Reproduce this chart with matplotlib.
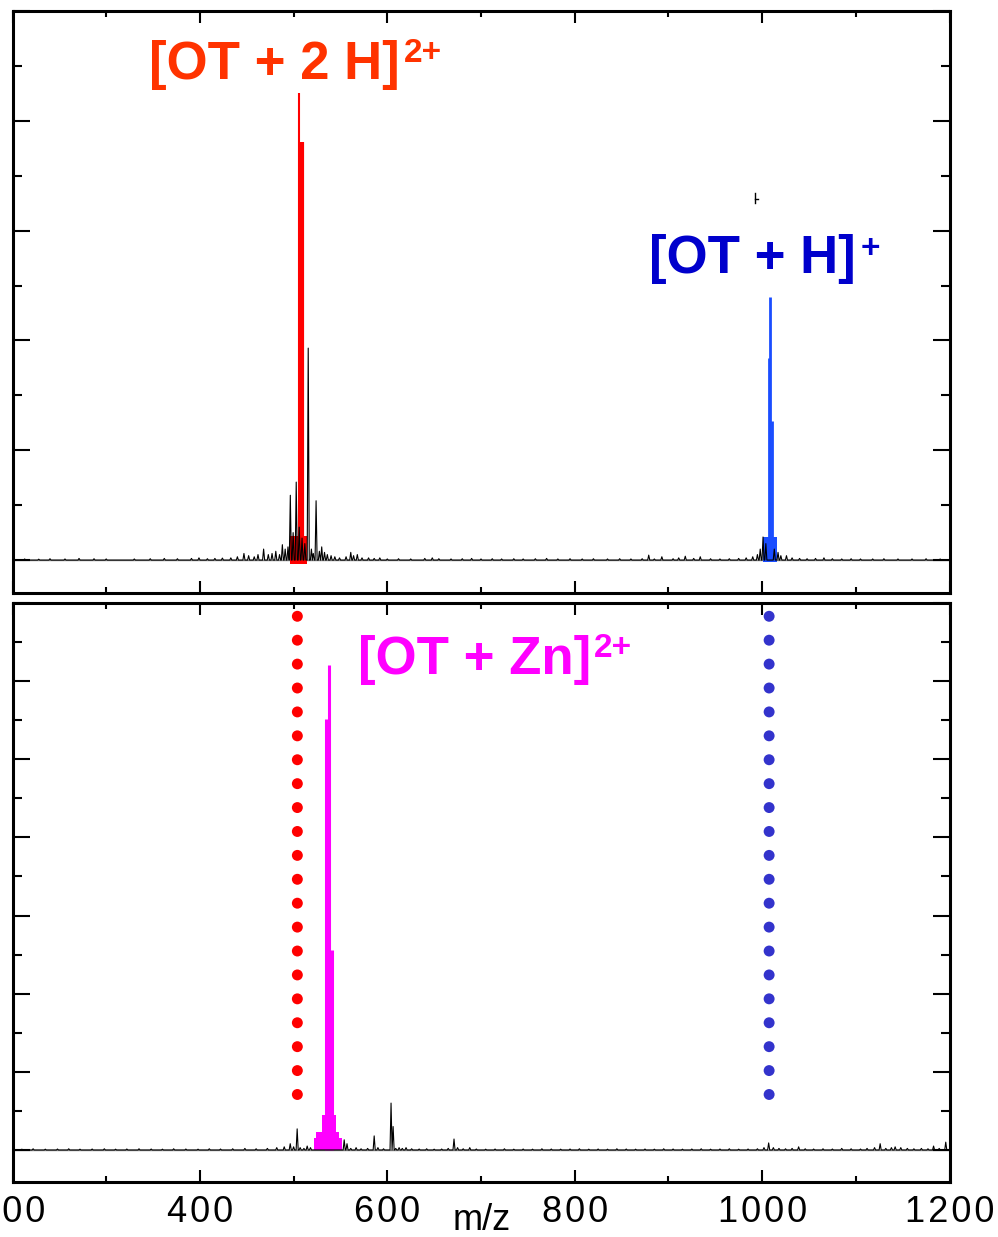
import matplotlib

matplotlib.use("Agg")

import matplotlib.pyplot as plt
import numpy as np
from matplotlib.ticker import MultipleLocator

# ---- data ----
# top panel (native OT) : small black noise spikes (m/z, intensity)
top_noise_mz = [213, 228, 240, 256, 271, 287, 300, 330, 347, 362, 376, 391, 399, 408, 416, 424, 433, 440,
                447, 452, 458, 462, 468, 473, 477, 481, 485, 488, 491, 494,
                496.5, 499.5, 502.8, 506, 509, 512, 515.6, 519, 521, 524, 527.5, 530, 533, 536, 540, 544, 549,
                556, 561, 564, 568, 573, 580, 586, 592, 600, 612, 625, 640, 648, 655, 668, 680, 690, 700,
                712, 722, 735, 745, 758, 770, 782, 795, 808, 820, 835, 848, 860, 872, 879, 885, 893, 905,
                911, 918, 927, 934, 945, 955, 965, 975, 983, 990, 995, 998, 1001, 1004, 1013, 1017, 1020,
                1026, 1032, 1040, 1048, 1057, 1066, 1075, 1085, 1095, 1105, 1118, 1130, 1145, 1160, 1175, 1190]
top_noise_h = [0.01, 0.008, 0.012, 0.01, 0.015, 0.012, 0.01, 0.01, 0.012, 0.015, 0.012, 0.015, 0.02, 0.012, 0.015, 0.018, 0.02, 0.03,
               0.06, 0.04, 0.03, 0.05, 0.1, 0.05, 0.06, 0.08, 0.05, 0.14, 0.1, 0.12,
               0.59, 0.25, 0.71, 0.3, 0.2, 0.15, 1.93, 0.1, 0.06, 0.54, 0.08, 0.12, 0.07, 0.05, 0.04, 0.03, 0.02,
               0.03, 0.07, 0.04, 0.05, 0.02, 0.02, 0.015, 0.02, 0.01, 0.012, 0.01, 0.015, 0.02, 0.012, 0.01, 0.012, 0.015, 0.01,
               0.012, 0.01, 0.012, 0.01, 0.012, 0.015, 0.01, 0.012, 0.01, 0.012, 0.01, 0.012, 0.01, 0.012, 0.045, 0.01, 0.03, 0.012,
               0.02, 0.035, 0.015, 0.03, 0.012, 0.01, 0.012, 0.015, 0.02, 0.03, 0.05, 0.1, 0.21, 0.15, 0.1, 0.07, 0.04,
               0.04, 0.02, 0.015, 0.012, 0.015, 0.02, 0.012, 0.01, 0.012, 0.01, 0.01, 0.012, 0.01, 0.01, 0.012, 0.01]

# [OT + 2 H]2+ isotope sticks and base cluster
red_mz = [506.0, 508.5]
red_h = [4.25, 3.81]
red_lw = [1.5, 3.0]
red_base = (496.5, 514.7, -0.04, 0.22)

# [OT + H]+
blue_mz = [1006.9, 1008.5, 1010.7]
blue_h = [1.84, 2.40, 1.27]
blue_base = (1001.0, 1016.0, -0.02, 0.21)

# bottom panel (OT + Zn)
bot_noise_mz = [210, 222, 235, 248, 260, 272, 285, 298, 310, 322, 335, 348, 360, 372, 385, 398, 410, 422, 435,
                448, 460, 472, 482, 490, 496.4, 500, 503.8, 507, 511, 514.5, 518, 554, 557, 561, 566.7, 572, 579,
                586, 590, 596, 604, 606.2, 609, 612.6, 616, 620, 626, 634, 642, 650, 658, 665, 671.2, 675, 681,
                688, 695, 705, 715, 725, 735, 745, 755, 765, 775, 785, 795, 805, 815, 825, 835, 845, 855, 865,
                875, 885, 895, 905, 915, 925, 935, 945, 955, 965, 975, 985, 995, 1002, 1007, 1012, 1018, 1025,
                1032, 1039, 1046, 1055, 1065, 1075, 1085, 1095, 1105, 1112, 1120, 1126, 1132, 1138, 1142, 1148,
                1155, 1162, 1170, 1177, 1183, 1189, 1196]
bot_noise_h = [0.01, 0.015, 0.01, 0.012, 0.015, 0.01, 0.012, 0.015, 0.01, 0.012, 0.015, 0.012, 0.01, 0.015, 0.012, 0.01, 0.015, 0.012, 0.015,
               0.02, 0.015, 0.02, 0.03, 0.04, 0.08, 0.04, 0.27, 0.03, 0.02, 0.05, 0.03, 0.13, 0.08, 0.02, 0.03, 0.015, 0.02,
               0.18, 0.03, 0.015, 0.6, 0.3, 0.02, 0.03, 0.02, 0.03, 0.015, 0.012, 0.015, 0.01, 0.012, 0.02, 0.14, 0.03, 0.015,
               0.03, 0.012, 0.01, 0.012, 0.015, 0.01, 0.012, 0.01, 0.015, 0.012, 0.01, 0.012, 0.015, 0.01, 0.012, 0.01, 0.015, 0.012, 0.01,
               0.012, 0.01, 0.015, 0.012, 0.01, 0.012, 0.015, 0.01, 0.012, 0.015, 0.01, 0.012, 0.015, 0.03, 0.09, 0.03, 0.02, 0.015,
               0.02, 0.04, 0.015, 0.012, 0.015, 0.012, 0.02, 0.015, 0.012, 0.02, 0.03, 0.08, 0.02, 0.03, 0.04, 0.03,
               0.02, 0.015, 0.02, 0.015, 0.05, 0.02, 0.1]

zn_mz = [535.0, 538.1, 541.3]
zn_h = [5.51, 6.21, 2.56]
zn_step_left = [522.1, 524.3, 530.7, 533.9]
zn_step_right = [552.0, 548.8, 545.6, 542.4]
zn_step_h = [0.15, 0.23, 0.45, 0.71]

# reference positions of the two native species
ref_mz = [504.0, 1007.5]
ref_colors = ["#ff0000", "#3333cc"]
ref_y = (0.71, 6.83)
n_dots = 21

xticks = [200, 400, 600, 800, 1000, 1200]

W, H = 998, 1237


def trace(mz, h, w=1.1):
    xs, ys = [200], [0]
    for m, v in zip(mz, h):
        xs += [m - w, m, m + w]
        ys += [0, v, 0]
    xs.append(1200)
    ys.append(0)
    return xs, ys


def style(ax, ymax, ymin):
    ax.set_xlim(200, 1200)
    ax.set_ylim(ymin, ymax)
    ax.xaxis.set_major_locator(MultipleLocator(200))
    ax.xaxis.set_minor_locator(MultipleLocator(100))
    ax.yaxis.set_major_locator(MultipleLocator(1))
    ax.yaxis.set_minor_locator(MultipleLocator(0.5))
    ax.tick_params(axis="both", which="both", direction="in", top=True, right=True,
                   width=1.5, color="black", labelleft=False)
    ax.tick_params(axis="x", which="major", length=8.5)
    ax.tick_params(axis="x", which="minor", length=4.5)
    ax.tick_params(axis="y", which="major", length=12)
    ax.tick_params(axis="y", which="minor", length=6.5)
    for s in ax.spines.values():
        s.set_linewidth(2.2)


def fig_text(x, y, s, size, color, weight="bold"):
    fig.text(x / W, 1 - y / H, s, fontsize=size, color=color, fontweight=weight,
             family=["Liberation Sans", "DejaVu Sans"], ha="left", va="baseline")


fig = plt.figure(figsize=(9.98, 12.37), dpi=100)

ax1 = fig.add_axes([12.5 / W, 1 - 593 / H, 937 / W, 582 / H])
ax2 = fig.add_axes([12.5 / W, 1 - 1182 / H, 937 / W, 579 / H])

# ---- top panel ----
ax1.axhline(0, color="#888888", lw=1.0, zorder=1)
l, r, b, t = red_base
ax1.bar((l + r) / 2, t - b, width=r - l, bottom=b, color="#ff0000", zorder=2)
for m, v, lw in zip(red_mz, red_h, red_lw):
    ax1.vlines(m, 0, v, color="#ff0000", lw=lw, zorder=2)
l, r, b, t = blue_base
ax1.bar((l + r) / 2, t - b, width=r - l, bottom=b, color="#1a4dff", zorder=2)
for m, v in zip(blue_mz, blue_h):
    ax1.vlines(m, 0, v, color="#1a4dff", lw=2.0, zorder=2)
xs, ys = trace(top_noise_mz, top_noise_h)
ax1.plot(xs, ys, color="black", lw=0.8, zorder=3)
# small stray mark
ax1.plot([992, 992], [3.25, 3.34], color="black", lw=1.0)
ax1.plot([992, 996], [3.29, 3.29], color="black", lw=1.0)
style(ax1, 5.0, -0.3)
ax1.tick_params(labelbottom=False)

# ---- bottom panel ----
ax2.axhline(0, color="#888888", lw=1.0, zorder=1)
for l, r, v in zip(zn_step_left, zn_step_right, zn_step_h):
    ax2.bar((l + r) / 2, v, width=r - l, bottom=0, color="#ff00ff", zorder=2)
for m, v in zip(zn_mz, zn_h):
    ax2.vlines(m, 0, v, color="#ff00ff", lw=2.2, zorder=2)
xs, ys = trace(bot_noise_mz, bot_noise_h)
ax2.plot(xs, ys, color="black", lw=0.8, zorder=3)
for m, c in zip(ref_mz, ref_colors):
    yy = np.linspace(ref_y[0], ref_y[1], n_dots)
    ax2.scatter([m] * n_dots, yy, s=62, color=c, edgecolors="none", zorder=4)
style(ax2, 7.0, -0.41)
ax2.set_xticks(xticks)
ax2.set_xticklabels(["\u200a".join(str(v)) for v in xticks],
                    family=["Liberation Sans", "DejaVu Sans"], fontsize=26)
ax2.tick_params(axis="x", which="major", pad=9)

fig.text(482 / W, 1 - 1230 / H, "m/z", fontsize=26, ha="center", va="baseline",
         family=["Liberation Sans", "DejaVu Sans"])

# ---- ion labels ----
fig_text(149, 79, "[OT + 2 H]", 38, "#ff3300")
fig_text(404, 62, "2+", 24, "#ff3300")
fig_text(649, 273, "[OT + H]", 38, "#0000cc")
fig_text(861, 258, "+", 24, "#0000cc")
fig_text(358, 674, "[OT + Zn]", 38, "#ff00ff")
fig_text(594, 657, "2+", 24, "#ff00ff")

fig.savefig("out.png", dpi=100)
